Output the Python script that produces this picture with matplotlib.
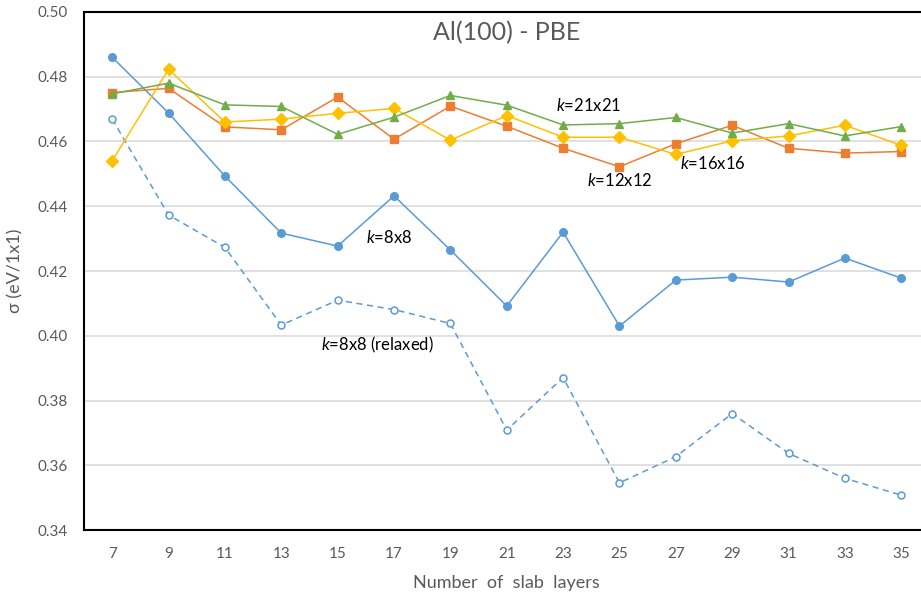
#!/usr/bin/env python
"""
Al(100) surface energy vs slab thickness, several k-point meshes
"""

import numpy as np
import matplotlib.pyplot as plt

## data
layers = [7, 9, 11, 13, 15, 17, 19, 21, 23, 25, 27, 29, 31, 33, 35]
k8 = [0.486, 0.4688, 0.4493, 0.4317, 0.4277, 0.4432, 0.4265, 0.4092,
      0.432, 0.403, 0.4172, 0.4181, 0.4166, 0.424, 0.4178]
k8_relaxed = [0.4669, 0.4373, 0.4273, 0.4033, 0.411, 0.4081, 0.4038, 0.3709,
              0.3871, 0.3546, 0.3627, 0.376, 0.3637, 0.356, 0.3508]
k12 = [0.4751, 0.4764, 0.4645, 0.4636, 0.4737, 0.4607, 0.4709, 0.4647,
       0.4579, 0.4522, 0.4593, 0.465, 0.4579, 0.4564, 0.4569]
k16 = [0.454, 0.4823, 0.466, 0.4669, 0.4687, 0.4702, 0.4604, 0.468,
       0.4613, 0.4613, 0.456, 0.4602, 0.4617, 0.465, 0.4588]
k21 = [0.4747, 0.478, 0.4713, 0.4708, 0.4622, 0.4675, 0.4742, 0.4712,
       0.4651, 0.4655, 0.4674, 0.4626, 0.4655, 0.4617, 0.4646]
yticks = [0.34, 0.36, 0.38, 0.40, 0.42, 0.44, 0.46, 0.48, 0.50]

## style
fam = ['Lato', 'DejaVu Sans']
plt.rcParams['font.family'] = fam
plt.rcParams['mathtext.fontset'] = 'custom'
plt.rcParams['mathtext.it'] = 'Lato:italic'
plt.rcParams['mathtext.rm'] = 'Lato'
grey = '#595959'
blue, orange, yellow, green = '#5B9BD5', '#ED7D31', '#FFC000', '#70AD47'

fig = plt.figure(figsize=(9.21, 5.95), dpi=100)
ax = fig.add_axes([0.0912, 0.109, 0.918, 0.871])

ax.plot(layers, k8_relaxed, '--o', color=blue, lw=1.1, ms=5, mfc='white', mew=1.1, dashes=(4, 3))
ax.plot(layers, k8, '-o', color=blue, lw=1.1, ms=5.5)
ax.plot(layers, k12, '-s', color=orange, lw=1.1, ms=5.5)
ax.plot(layers, k16, '-D', color=yellow, lw=1.1, ms=6)
ax.plot(layers, k21, '-^', color=green, lw=1.1, ms=5.5)

ax.set_xlim(6, 36)
ax.set_ylim(0.34, 0.50)
ax.set_xticks(layers)
ax.set_yticks(yticks)
ax.set_yticklabels(['%.2f' % v for v in yticks])
ax.grid(axis='y', color='#D9D9D9', lw=1.1)
ax.set_axisbelow(True)
ax.tick_params(length=0, labelsize=11, labelcolor=grey, pad=12)
for s in ax.spines.values():
    s.set_color('black')
    s.set_linewidth(1.5)

ax.set_title('Al(100) - PBE', fontsize=18, color=grey, y=0.93)
ax.set_xlabel('Number  of  slab  layers', fontsize=13, color=grey, labelpad=10)
ax.set_ylabel('σ (eV/1x1)', fontsize=13, color=grey, labelpad=10)

## curve labels
lab = dict(fontsize=12, color='black', ha='left', va='center')
ax.text(22.75, 0.4710, r'$k$=21x21', **lab)
ax.text(23.85, 0.4478, r'$k$=12x12', **lab)
ax.text(27.15, 0.4531, r'$k$=16x16', **lab)
ax.text(16.0, 0.4302, r'$k$=8x8', **lab)
ax.text(14.4, 0.3971, r'$k$=8x8 (relaxed)', **lab)

plt.savefig('out.png', dpi=100)
